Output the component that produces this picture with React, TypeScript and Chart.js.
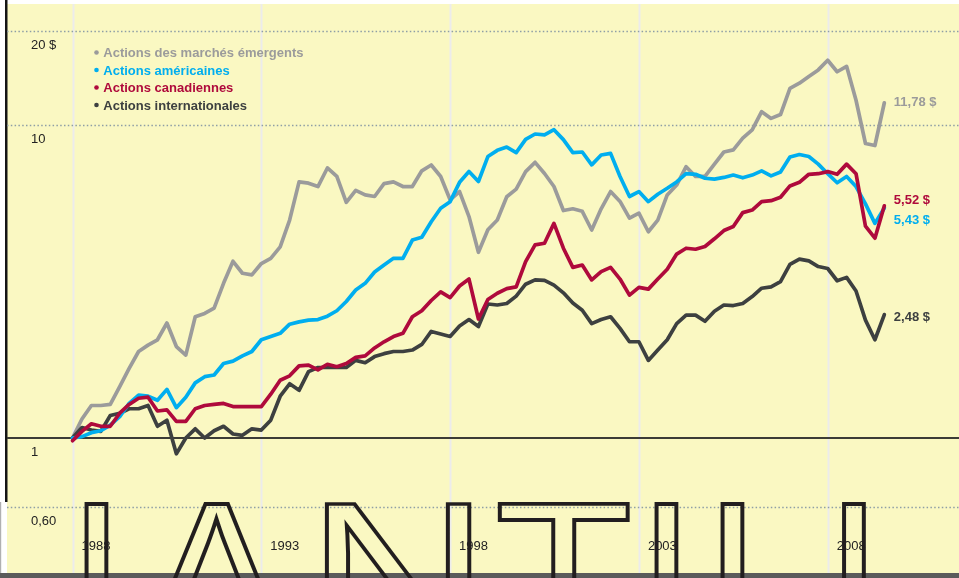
import React, { useEffect, useRef } from 'react';
import { Chart, registerables } from 'chart.js';

Chart.register(...registerables);

// ---- Data (quarterly growth of 1 $ invested, Jan 1988 = 1) ----
const START_YEAR = 1988;
const STEP_YEARS = 0.25;

const SERIES_NAMES = [
  'Actions des marchés émergents',
  'Actions américaines',
  'Actions canadiennes',
  'Actions internationales',
];

const EMERGING = [
  1.0, 1.15, 1.27, 1.27, 1.28, 1.46, 1.67, 1.89, 1.98, 2.06,
  2.33, 1.96, 1.84, 2.44, 2.5, 2.6, 3.12, 3.67, 3.36, 3.32,
  3.61, 3.75, 4.08, 4.97, 6.58, 6.52, 6.36, 7.29, 6.85, 5.66,
  6.18, 5.98, 5.91, 6.5, 6.58, 6.36, 6.36, 7.14, 7.45, 6.85,
  5.77, 6.13, 5.1, 3.92, 4.63, 4.97, 5.9, 6.24, 7.1, 7.6,
  7.0, 6.36, 5.33, 5.4, 5.3, 4.62, 5.4, 6.13, 5.7, 5.04,
  5.23, 4.56, 4.97, 5.98, 6.43, 7.36, 6.85, 6.85, 7.5, 8.2,
  8.33, 9.08, 9.65, 11.03, 10.5, 10.8, 13.1, 13.6, 14.3, 15.0,
  16.1, 14.8, 15.4, 12.0, 8.73, 8.6, 11.78,
];

const US = [
  1.0, 1.01, 1.04, 1.055, 1.1, 1.17, 1.29, 1.37, 1.36, 1.32,
  1.43, 1.25, 1.35, 1.5, 1.57, 1.59, 1.73, 1.76, 1.83, 1.89,
  2.06, 2.11, 2.16, 2.31, 2.35, 2.38, 2.39, 2.45, 2.55, 2.73,
  2.97, 3.12, 3.39, 3.57, 3.75, 3.75, 4.29, 4.38, 4.91, 5.42,
  5.69, 6.56, 7.1, 6.6, 7.93, 8.3, 8.5, 8.16, 9.0, 9.36,
  9.3, 9.66, 8.98, 8.16, 8.2, 7.46, 8.02, 8.12, 6.85, 5.91,
  6.13, 5.69, 6.01, 6.28, 6.58, 6.99, 6.96, 6.76, 6.72, 6.8,
  6.92, 6.78, 6.92, 7.14, 6.88, 7.08, 7.9, 8.05, 7.93, 7.5,
  6.99, 6.54, 6.85, 6.36, 5.6, 4.85, 5.43,
];

const CANADA = [
  0.98, 1.05, 1.11, 1.09, 1.09, 1.2, 1.28, 1.34, 1.35, 1.22,
  1.23, 1.13, 1.13, 1.24, 1.27, 1.28, 1.29, 1.26, 1.26, 1.26,
  1.26, 1.38, 1.53, 1.58, 1.7, 1.71, 1.65, 1.72, 1.69, 1.73,
  1.81, 1.83, 1.94, 2.03, 2.11, 2.16, 2.44, 2.55, 2.75, 2.93,
  2.81, 3.06, 3.22, 2.4, 2.77, 2.9, 3.0, 3.04, 3.66, 4.14,
  4.19, 4.85, 4.04, 3.51, 3.57, 3.2, 3.4, 3.51, 3.22, 2.86,
  3.03, 2.99, 3.22, 3.46, 3.87, 4.04, 4.01, 4.09, 4.33, 4.6,
  4.74, 5.25, 5.35, 5.69, 5.73, 5.88, 6.39, 6.56, 6.96, 6.99,
  7.1, 6.96, 7.5, 6.99, 4.75, 4.35, 5.52,
];

const INTL = [
  1.0, 1.08, 1.06, 1.05, 1.18, 1.2, 1.24, 1.24, 1.27, 1.09,
  1.14, 0.89, 1.0, 1.07, 1.0, 1.055, 1.09, 1.03, 1.02, 1.07,
  1.06, 1.14, 1.36, 1.49, 1.42, 1.63, 1.68, 1.68, 1.68, 1.68,
  1.77, 1.74, 1.82, 1.86, 1.89, 1.89, 1.91, 1.99, 2.19, 2.15,
  2.11, 2.28, 2.39, 2.27, 2.68, 2.66, 2.69, 2.84, 3.1, 3.2,
  3.19, 3.08, 2.91, 2.7, 2.56, 2.32, 2.39, 2.44, 2.24, 2.03,
  2.03, 1.77, 1.91, 2.06, 2.32, 2.47, 2.47, 2.36, 2.54, 2.66,
  2.65, 2.69, 2.83, 3.01, 3.04, 3.16, 3.59, 3.73, 3.68, 3.53,
  3.48, 3.18, 3.26, 2.95, 2.38, 2.06, 2.48,
];

const X_TICKS = [1988, 1993, 1998, 2003, 2008];
const X_TICK_LABELS = ['1988', '1993', '1998', '2003', '2008'];
const Y_TICKS = [20, 10, 1, 0.6];
const Y_TICK_LABELS = ['20 $', '10', '1', '0,60'];

const BIG_LETTERS = ['I', 'A', 'N', 'T', 'I', 'I', 'I'];

// ---- Styles ----
const FONT = '"Liberation Sans", Arial, Helvetica, sans-serif';
const YELLOW = '#faf8c2';
const COLORS = ['#9b9b9b', '#00aeef', '#af0a3c', '#3d4040'];
const END_LABEL_DY = [0, 12, -5, 3];
const LETTER_LAYOUT = [
  { cx: 96.5 },
  { cx: 216 },
  { cx: 398, w: 147 },
  { cx: 563.5, w: 133 },
  { cx: 666.5 },
  { cx: 732.5 },
  { cx: 854 },
];

const ALL_SERIES = [EMERGING, US, CANADA, INTL];

function toPoints(values: number[]) {
  return values.map((v, i) => ({ x: START_YEAR + i * STEP_YEARS, y: v }));
}

function fmtMoney(v: number) {
  return v.toFixed(2).replace('.', ',') + ' $';
}

const decorPlugin = {
  id: 'decor',
  beforeDraw(chart: any) {
    const { ctx, chartArea: a, width, height } = chart;
    const xs = chart.scales.x;
    const ys = chart.scales.y;
    ctx.save();
    ctx.fillStyle = '#ffffff';
    ctx.fillRect(0, 0, width, height);
    ctx.fillStyle = YELLOW;
    ctx.fillRect(a.left, a.top, a.right - a.left, a.bottom - a.top);
    ctx.fillStyle = '#5b5b5b';
    ctx.fillRect(0, a.bottom, width, height - a.bottom);
    ctx.fillStyle = '#151515';
    ctx.fillRect(5, 0, 2.5, 502);
    ctx.fillStyle = '#b0b0b0';
    ctx.fillRect(0, 502, 1.2, a.bottom - 502);

    // vertical grid
    ctx.strokeStyle = '#ecebeb';
    ctx.lineWidth = 2;
    X_TICKS.forEach((t) => {
      const px = Math.round(xs.getPixelForValue(t)) + 0.5;
      ctx.beginPath();
      ctx.moveTo(px, a.top);
      ctx.lineTo(px, a.bottom);
      ctx.stroke();
    });

    // horizontal grid
    Y_TICKS.forEach((t) => {
      const py = Math.round(ys.getPixelForValue(t));
      ctx.beginPath();
      if (t === 1) {
        ctx.setLineDash([]);
        ctx.strokeStyle = '#3c3c36';
        ctx.lineWidth = 2;
        ctx.moveTo(a.left, py);
        ctx.lineTo(a.right, py);
      } else {
        ctx.setLineDash([1.5, 2.3]);
        ctx.strokeStyle = '#8e9ea6';
        ctx.lineWidth = 1.5;
        ctx.moveTo(a.left, py + 0.5);
        ctx.lineTo(a.right, py + 0.5);
      }
      ctx.stroke();
    });
    ctx.setLineDash([]);

    // tick labels
    ctx.fillStyle = '#222222';
    ctx.font = `13px ${FONT}`;
    ctx.textBaseline = 'alphabetic';
    ctx.textAlign = 'left';
    Y_TICKS.forEach((t, i) => {
      const py = ys.getPixelForValue(t);
      ctx.fillText(Y_TICK_LABELS[i], 31, py + 18);
    });
    X_TICKS.forEach((t, i) => {
      const px = xs.getPixelForValue(t);
      ctx.fillText(X_TICK_LABELS[i], px + 9, 550);
    });
    ctx.restore();
  },
  afterDatasetsDraw(chart: any) {
    const { ctx } = chart;
    const xs = chart.scales.x;
    const ys = chart.scales.y;
    ctx.save();
    // legend
    ctx.font = `bold 13px ${FONT}`;
    ctx.textAlign = 'left';
    ctx.textBaseline = 'alphabetic';
    SERIES_NAMES.forEach((name, i) => {
      const base = 57.3 + i * 17.5;
      ctx.fillStyle = COLORS[i];
      ctx.beginPath();
      ctx.arc(96.5, base - 4.8, 2.3, 0, Math.PI * 2);
      ctx.fill();
      ctx.fillText(name, 103.3, base);
    });
    // end labels
    ctx.textBaseline = 'middle';
    ALL_SERIES.forEach((vals, i) => {
      const last = vals.length - 1;
      const px = xs.getPixelForValue(START_YEAR + last * STEP_YEARS);
      const py = ys.getPixelForValue(vals[last]);
      ctx.fillStyle = COLORS[i];
      ctx.fillText(fmtMoney(vals[last]), px + 9.5, py + END_LABEL_DY[i]);
    });
    ctx.restore();
  },
  afterDraw(chart: any) {
    const { ctx } = chart;
    ctx.save();
    const S = 212;
    const LW = 4;
    ctx.font = `${S}px ${FONT}`;
    ctx.textAlign = 'left';
    ctx.textBaseline = 'alphabetic';
    ctx.strokeStyle = '#221e1f';
    ctx.lineWidth = LW;
    ctx.lineJoin = 'miter';
    const asc = ctx.measureText('I').actualBoundingBoxAscent;
    const baseline = 502 + LW / 2 + asc;
    BIG_LETTERS.forEach((ch, i) => {
      const lay = LETTER_LAYOUT[i];
      const m = ctx.measureText(ch);
      const gw = m.actualBoundingBoxRight + m.actualBoundingBoxLeft;
      const gc = (m.actualBoundingBoxRight - m.actualBoundingBoxLeft) / 2;
      const sx = lay.w ? (lay.w - LW) / gw : 1;
      ctx.save();
      ctx.translate(lay.cx, 0);
      ctx.scale(sx, 1);
      ctx.lineWidth = LW / sx;
      ctx.strokeText(ch, -gc, baseline);
      ctx.restore();
    });
    ctx.restore();
  },
};

export default function App() {
  const canvasRef = useRef<HTMLCanvasElement | null>(null);

  useEffect(() => {
    const canvas = canvasRef.current;
    if (!canvas) return;
    const orders = [3, 1, 0, 2];
    const chart = new Chart(canvas, {
      type: 'line',
      data: {
        datasets: ALL_SERIES.map((vals, i) => ({
          label: SERIES_NAMES[i],
          data: toPoints(vals),
          borderColor: COLORS[i],
          backgroundColor: COLORS[i],
          borderWidth: 3.7,
          pointRadius: 0,
          tension: 0,
          fill: false,
          borderJoinStyle: 'round' as const,
          borderCapStyle: 'round' as const,
          order: orders[i],
        })),
      },
      options: {
        responsive: false,
        animation: false,
        devicePixelRatio: 1,
        layout: { padding: { left: 7, top: 4, right: 0, bottom: 5 } },
        plugins: {
          legend: { display: false },
          tooltip: { enabled: false },
        },
        scales: {
          x: {
            type: 'linear',
            display: false,
            min: 1986.265,
            max: 2011.477,
          },
          y: {
            type: 'logarithmic',
            display: false,
            min: 0.3704,
            max: 24.36,
          },
        },
      },
      plugins: [decorPlugin],
    });
    return () => chart.destroy();
  }, []);

  return (
    <div style={{ position: 'fixed', left: 0, top: 0, width: 959, height: 578 }}>
      <canvas ref={canvasRef} width={959} height={578} style={{ display: 'block' }} />
    </div>
  );
}
